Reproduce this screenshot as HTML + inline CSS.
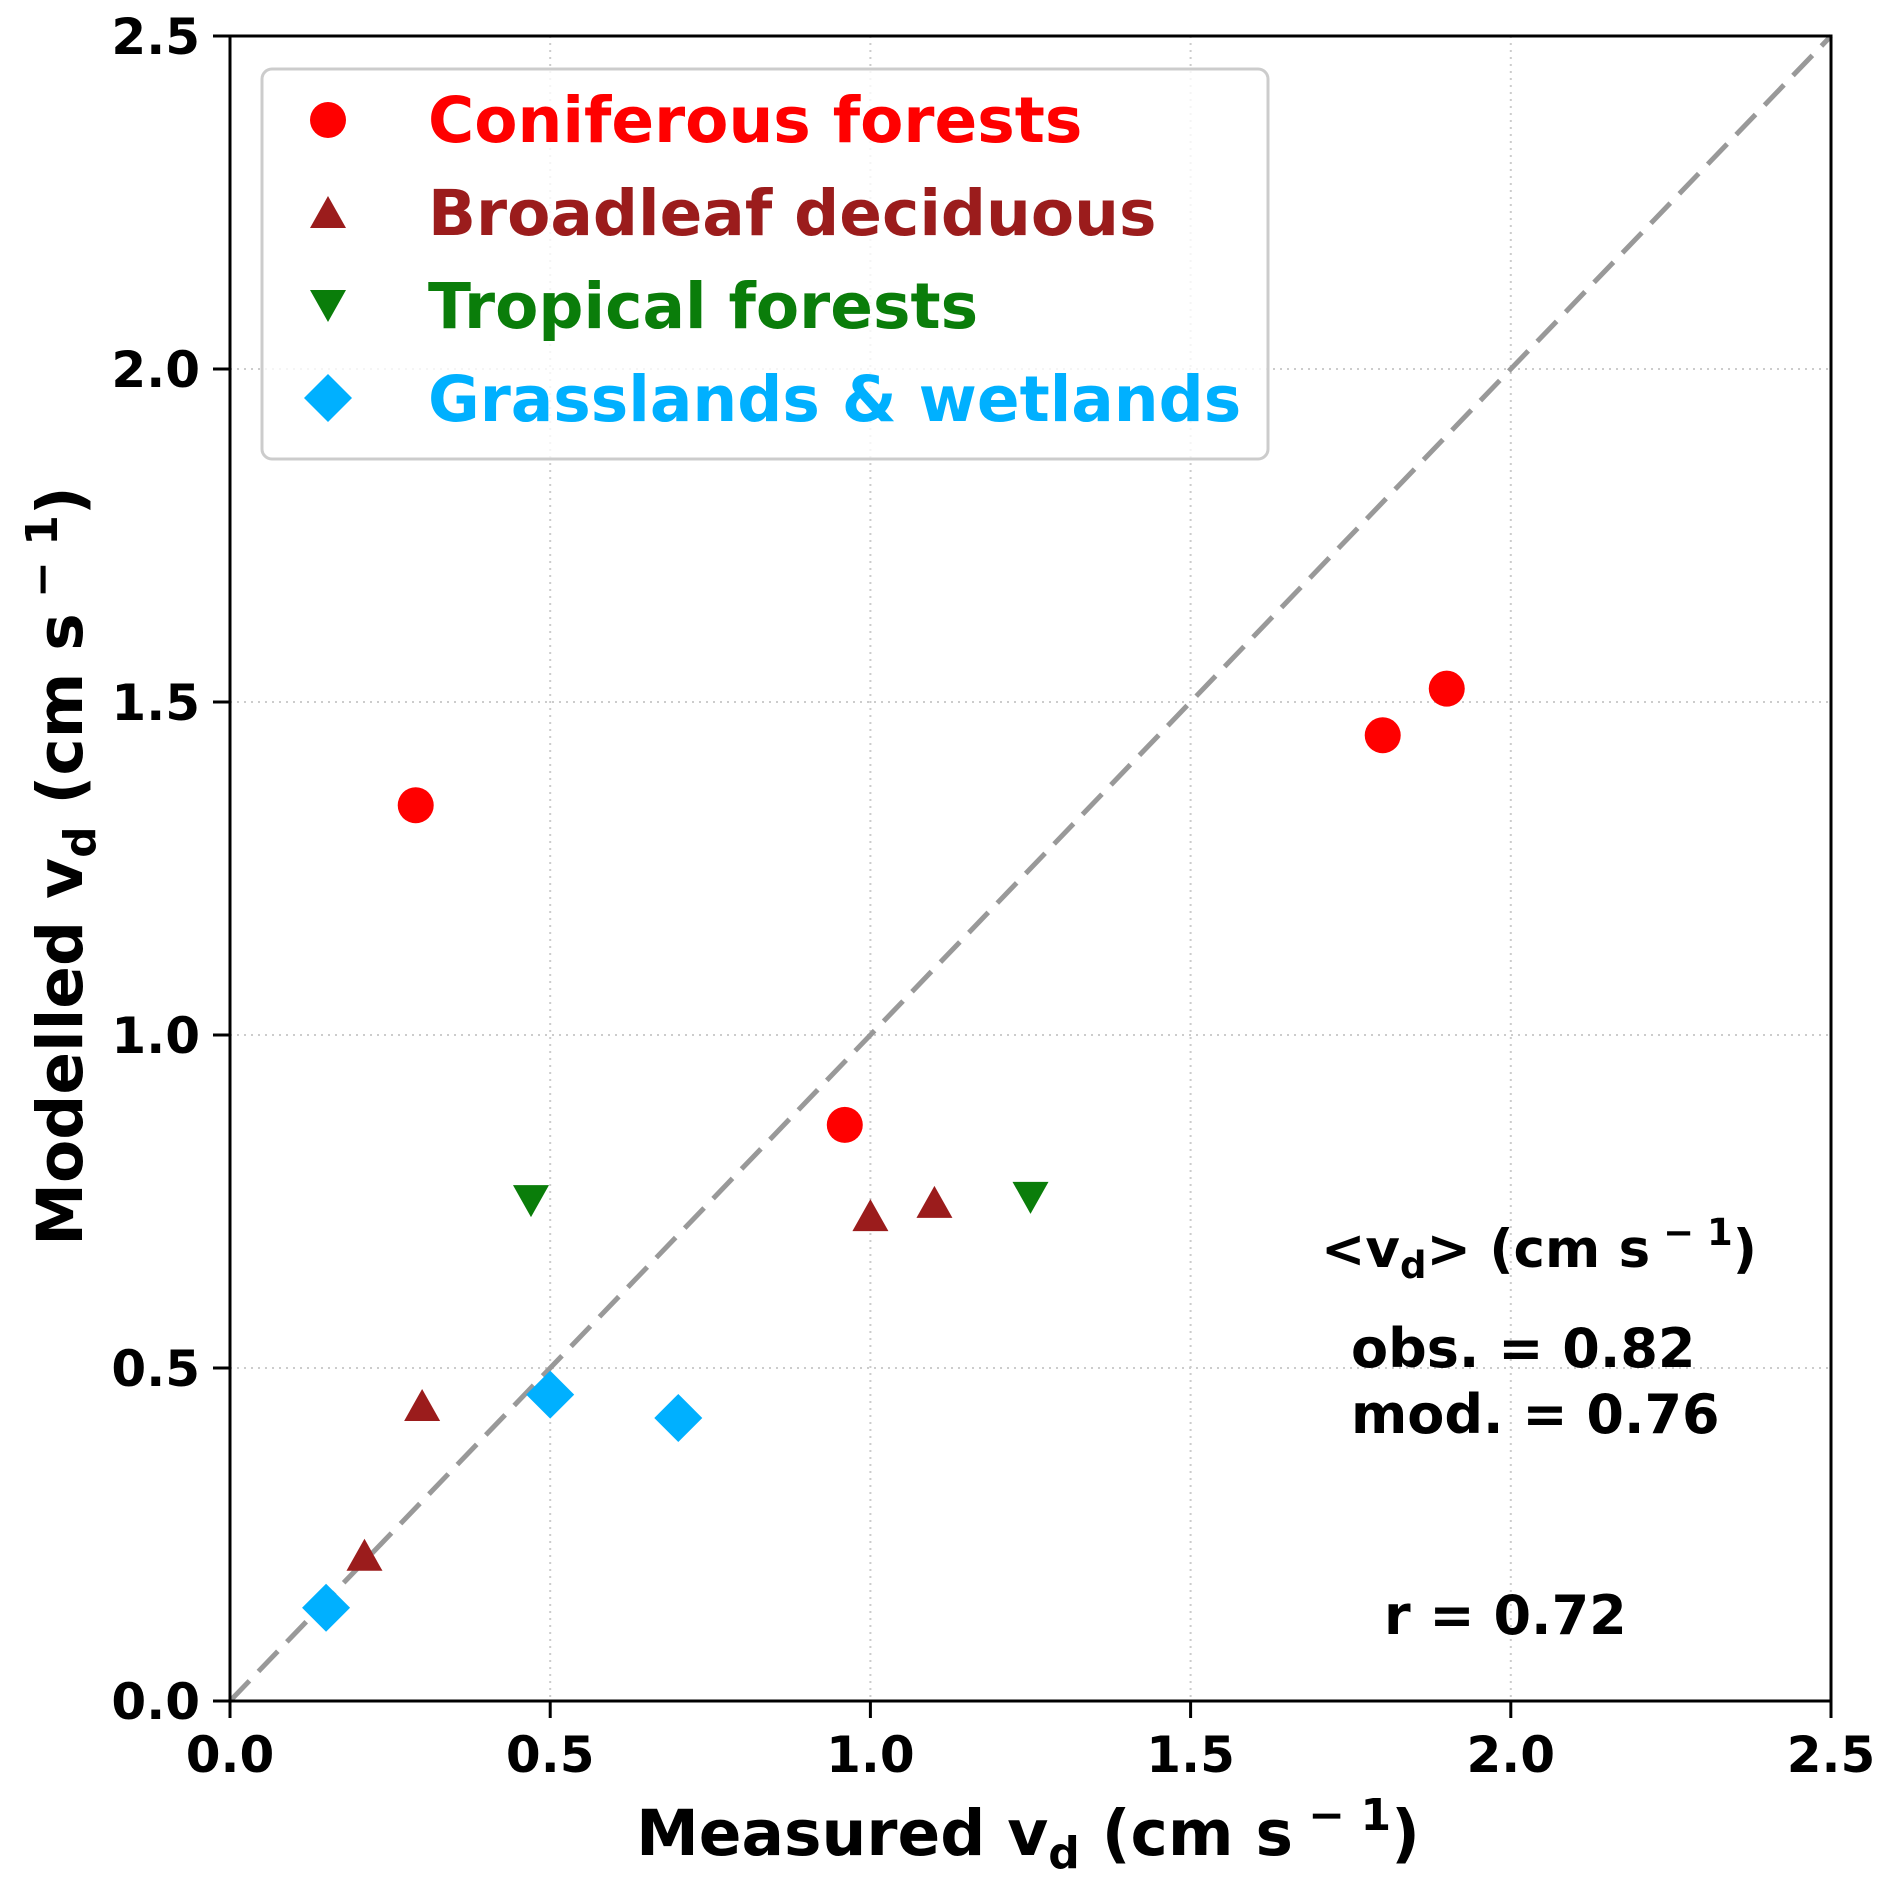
<!DOCTYPE html>
<html><head><meta charset="utf-8"><style>
html,body{margin:0;padding:0;background:#fff}
svg text{font-family:"DejaVu Sans","Liberation Sans",sans-serif;font-weight:bold}
</style></head><body>
<svg id="chart" width="1892" height="1886" viewBox="0 0 1892 1886" xmlns="http://www.w3.org/2000/svg">
<g id="grid"></g>
<line x1="230" y1="1701" x2="1831" y2="36" stroke="#999" stroke-width="5" stroke-dasharray="28,13"/>
<g id="marks"></g>
<rect x="230" y="36" width="1601" height="1665" fill="none" stroke="#000" stroke-width="3"/>
<g id="ticks"></g>
<text x="1028" y="1855" font-size="63" text-anchor="middle">Measured v<tspan font-size="44" dy="13">d</tspan><tspan dy="-13"> (cm s</tspan><tspan font-size="44" dy="-25"> − 1</tspan><tspan dy="25">)</tspan></text>
<text transform="translate(82,866) rotate(-90)" font-size="63" text-anchor="middle">Modelled v<tspan font-size="44" dy="13">d</tspan><tspan dy="-13"> (cm s</tspan><tspan font-size="44" dy="-25"> − 1</tspan><tspan dy="25">)</tspan></text>
<g>
<rect x="262" y="69" width="1006" height="390" rx="10" fill="#fff" fill-opacity="0.8" stroke="#ccc" stroke-width="3"/>
<circle cx="328" cy="120" r="18" fill="#ff0000"/>
<text x="428" y="142" font-size="63" fill="#ff0000">Coniferous forests</text>
<polygon points="328,196 346,228 310,228" fill="#9b1c1c"/>
<text x="428" y="235" font-size="63" fill="#9b1c1c">Broadleaf deciduous</text>
<polygon points="310,290 346,290 328,322" fill="#0a7d0a"/>
<text x="428" y="328" font-size="63" fill="#0a7d0a">Tropical forests</text>
<polygon points="328,374 352,398 328,422 304,398" fill="#00b0ff"/>
<text x="428" y="421" font-size="63" fill="#00b0ff">Grasslands &amp; wetlands</text>
</g>
<text x="1321" y="1267" font-size="53">&lt;v<tspan font-size="37" dy="11">d</tspan><tspan dy="-11">&gt; (cm s</tspan><tspan font-size="37" dy="-22"> − 1</tspan><tspan dy="22">)</tspan></text>
<text x="1351" y="1367" font-size="54">obs. = 0.82</text>
<text x="1351" y="1433" font-size="54">mod. = 0.76</text>
<text x="1384" y="1634" font-size="54">r = 0.72</text>
</svg>
<script>
const xTicks=[0,0.5,1.0,1.5,2.0,2.5];
const yTicks=[0,0.5,1.0,1.5,2.0,2.5];
const tickLabels=["0.0","0.5","1.0","1.5","2.0","2.5"];
const conX=[0.29,0.96,1.80,1.90];
const conY=[1.345,0.865,1.45,1.52];
const brdX=[0.21,0.30,1.00,1.10];
const brdY=[0.215,0.44,0.725,0.745];
const troX=[0.47,1.25];
const troY=[0.755,0.76];
const grsX=[0.15,0.50,0.70];
const grsY=[0.14,0.46,0.425];
const NS="http://www.w3.org/2000/svg";
function sx(v){return 230+v/2.5*1601;}
function sy(v){return 1701-v/2.5*1665;}
function mk(tag,attrs,parent){const e=document.createElementNS(NS,tag);for(const k in attrs)e.setAttribute(k,attrs[k]);parent.appendChild(e);return e;}
const grid=document.getElementById('grid'),ticks=document.getElementById('ticks'),marks=document.getElementById('marks');
xTicks.forEach((t,i)=>{
  const g=mk('line',{x1:sx(t),x2:sx(t),y1:36,y2:1701,stroke:'#ccc','stroke-width':2,'stroke-dasharray':'2,5'},grid);
  
  
  const tk=mk('line',{x1:sx(t),x2:sx(t),y1:1701,y2:1718,stroke:'#000','stroke-width':3},ticks);
  
  
  const tl=mk('text',{x:sx(t),y:1772,'font-size':50,'text-anchor':'middle'},ticks);
  tl.textContent=tickLabels[i];
  
  
});
yTicks.forEach((t,i)=>{
  const g=mk('line',{x1:230,x2:1831,y1:sy(t),y2:sy(t),stroke:'#ccc','stroke-width':2,'stroke-dasharray':'2,5'},grid);
  
  
  const tk=mk('line',{x1:213,x2:230,y1:sy(t),y2:sy(t),stroke:'#000','stroke-width':3},ticks);
  
  
  const tl=mk('text',{x:200,y:sy(t)+18,'font-size':50,'text-anchor':'end'},ticks);
  tl.textContent=tickLabels[i];
  
  
});
conX.forEach((v,i)=>{
  const e=mk('circle',{cx:sx(v),cy:sy(conY[i]),r:18,fill:'#ff0000'},marks);
  
  
});
brdX.forEach((v,i)=>{
  const x=sx(v),y=sy(brdY[i]);
  const e=mk('polygon',{points:`${x},${y-19} ${x+18},${y+13} ${x-18},${y+13}`,fill:'#9b1c1c'},marks);
  
  
});
troX.forEach((v,i)=>{
  const x=sx(v),y=sy(troY[i]);
  const e=mk('polygon',{points:`${x-18},${y-13} ${x+18},${y-13} ${x},${y+19}`,fill:'#0a7d0a'},marks);
  
  
});
grsX.forEach((v,i)=>{
  const x=sx(v),y=sy(grsY[i]);
  const e=mk('polygon',{points:`${x},${y-24} ${x+24},${y} ${x},${y+24} ${x-24},${y}`,fill:'#00b0ff'},marks);
  
  
});
</script>
</body></html>
